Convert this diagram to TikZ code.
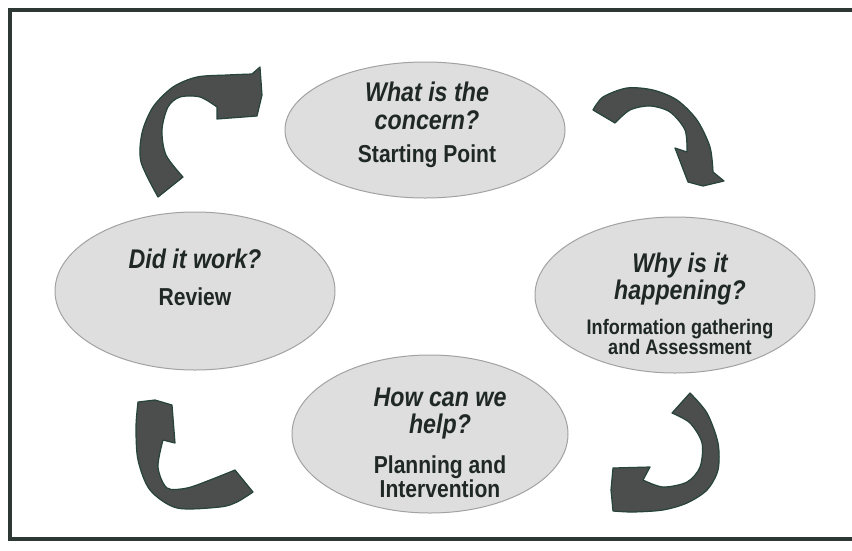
\documentclass[tikz,border=0pt]{standalone}
\usepackage{fontspec}
\setmainfont{Liberation Sans}
\newfontfamily\cyc[FakeStretch=0.86]{Liberation Sans}
\usetikzlibrary{shapes.geometric}
\definecolor{arrowfill}{HTML}{4B4E4D}
\definecolor{arrowedge}{HTML}{26443C}
\definecolor{ellfill}{HTML}{DEDEDE}
\definecolor{elledge}{HTML}{A2A2A2}
\definecolor{txt}{HTML}{202826}
\definecolor{framecol}{HTML}{2D3835}
\begin{document}
\begin{tikzpicture}[x=1pt,y=-1pt,
  stage/.style={ellipse, fill=ellfill, draw=elledge, line width=1pt, inner sep=0pt},
  qtext/.style={anchor=base, text=txt, inner sep=0pt, font=\cyc\bfseries\itshape\fontsize{27}{27}\selectfont},
  stext/.style={anchor=base, text=txt, inner sep=0pt, font=\cyc\bfseries\fontsize{24.5}{24.5}\selectfont},
  smalltext/.style={anchor=base, text=txt, inner sep=0pt, font=\cyc\bfseries\fontsize{21}{21}\selectfont},
  cyclearrow/.style={fill=arrowfill, draw=arrowedge, line width=1.2pt, line join=round}]
\useasboundingbox (0,0) rectangle (852,550);
\fill[white] (0,0) rectangle (852,550);
% frame
\draw[framecol, line width=4pt] (852,9.5) -- (9.5,9.5) -- (9.5,539) -- (852,539);

% stages
\node[stage, minimum width=280pt, minimum height=136pt] (concern) at (425,130) {};
\node[stage, minimum width=280pt, minimum height=158pt] (review) at (195,291) {};
\node[stage, minimum width=280pt, minimum height=156pt] (why) at (675,295) {};
\node[stage, minimum width=276pt, minimum height=158pt] (help) at (430,434) {};

% texts
\node[qtext] (t1a) at (427,101) {What is the};
\node[qtext] (t1b) at (427,129) {concern?};
\node[stext] (t1c) at (427,162) {Starting Point};

\node[qtext] (t2a) at (195,268) {Did it work?};
\node[stext] (t2b) at (195,305) {Review};

\node[qtext] (t3a) at (680,272) {Why is it};
\node[qtext] (t3b) at (680,299) {happening?};
\node[smalltext] (t3c) at (680,334) {Information gathering};
\node[smalltext] (t3d) at (680,354) {and Assessment};

\node[qtext] (t4a) at (440,406) {How can we};
\node[qtext] (t4b) at (440,433) {help?};
\node[stext] (t4c) at (440,473) {Planning and};
\node[stext] (t4d) at (440,497) {Intervention};

% arrows
\draw[cyclearrow] plot[smooth] coordinates {(158,197) (141,162) (142,133) (153,107) (173,87) (197,77) (227,75) (252,74)}
  -- (260,67) -- (262,95) -- (257,116) -- (217,119)
  -- plot[smooth] coordinates {(217,107) (200,97) (180,97) (168,107) (162,130) (166,155) (183,177)} -- cycle;

\draw[cyclearrow] plot[smooth] coordinates {(593,110) (603,97) (627,88) (653,90) (677,100) (697,120) (710,147) (713,172)}
  -- (724,181) -- (703,186) -- (688,182) -- (675,148)
  -- plot[smooth] coordinates {(687,152) (685,130) (670,112) (650,106) (630,110) (615,123)} -- cycle;

\draw[cyclearrow] plot[smooth] coordinates {(690,393) (707,413) (718,443) (718,470) (707,490) (687,503) (663,510) (633,512) (613,511)}
  -- (611,490) -- (613,468) -- (650,467)
  -- plot[smooth] coordinates {(643,480) (663,487) (687,482) (700,467) (702,443) (690,423) (672,413)} -- cycle;

\draw[cyclearrow] plot[smooth] coordinates {(253,492) (237,502) (220,507) (177,508) (150,490) (138,460) (136,427) (138,402)}
  -- (155,400) -- (172,405) -- (175,443)
  -- plot[smooth] coordinates {(163,440) (158,467) (167,488) (187,488) (210,480) (235,470)} -- cycle;
\end{tikzpicture}
\end{document}
